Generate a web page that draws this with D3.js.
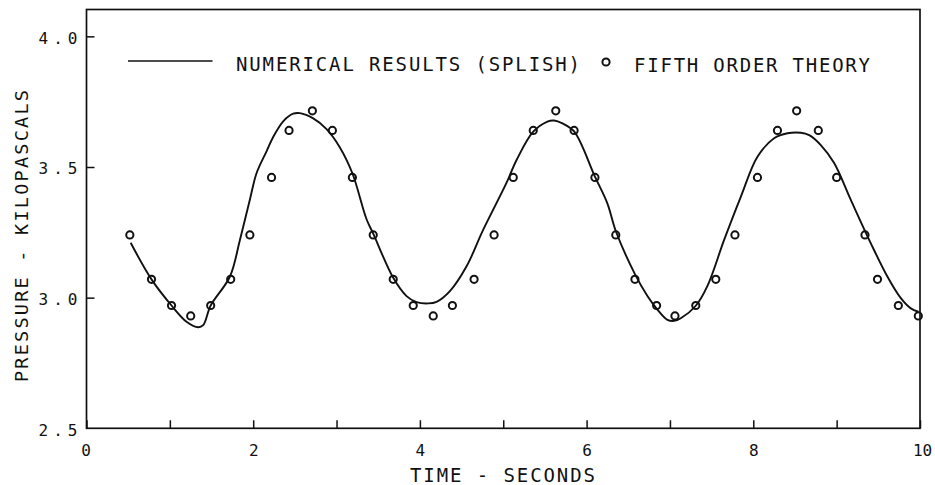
<!DOCTYPE html>
<html>
<head>
<meta charset="utf-8">
<script src="https://cdn.jsdelivr.net/npm/d3@7"></script>
<style>
  html, body { margin: 0; padding: 0; background: #fff; }
  svg { display: block; }
  text { font-family: "DejaVu Sans Mono", "Liberation Mono", monospace; fill: #111; }
</style>
</head>
<body>
<svg id="chart" width="935" height="485"></svg>
<script>
// ---- data ----
const splishTime = [0.53,0.78,1.02,1.20,1.34,1.40,1.49,1.72,1.84,1.96,2.04,2.16,2.24,2.36,2.48,2.56,2.72,2.88,3.04,3.19,3.36,3.44,3.68,3.84,3.96,4.10,4.20,4.36,4.56,4.76,5.04,5.16,5.36,5.53,5.61,5.71,5.85,6.10,6.25,6.35,6.58,6.73,6.84,6.97,7.05,7.13,7.31,7.45,7.65,7.85,8.05,8.25,8.41,8.57,8.67,8.81,8.97,9.17,9.41,9.61,9.77,9.89,9.98];
const splishPressure = [3.21,3.07,2.97,2.908,2.887,2.895,2.97,3.08,3.22,3.375,3.476,3.56,3.615,3.675,3.704,3.706,3.686,3.645,3.575,3.476,3.30,3.245,3.076,3.006,2.983,2.978,2.984,3.025,3.12,3.26,3.44,3.527,3.635,3.674,3.678,3.667,3.636,3.463,3.36,3.255,3.09,3.006,2.958,2.915,2.911,2.921,2.969,3.045,3.221,3.386,3.539,3.610,3.629,3.631,3.622,3.584,3.515,3.374,3.208,3.080,2.998,2.959,2.946];

const theoryTime = [0.52,0.78,1.02,1.25,1.49,1.73,1.96,2.22,2.43,2.71,2.95,3.19,3.44,3.68,3.92,4.16,4.39,4.65,4.89,5.12,5.36,5.63,5.85,6.10,6.35,6.58,6.84,7.06,7.31,7.55,7.78,8.05,8.29,8.52,8.78,9.00,9.34,9.49,9.74,9.98];
const theoryPressure = [3.24,3.07,2.97,2.93,2.97,3.07,3.24,3.46,3.64,3.715,3.64,3.46,3.24,3.07,2.97,2.93,2.97,3.07,3.24,3.46,3.64,3.715,3.64,3.46,3.24,3.07,2.97,2.93,2.97,3.07,3.24,3.46,3.64,3.715,3.64,3.46,3.24,3.07,2.97,2.93];

const xTicks = [0,1,2,3,4,5,6,7,8,9,10];
const xTickLabels = ["0","","2","","4","","6","","8","","10"];
const yTicks = [2.5,3.0,3.5,4.0];
const yTickLabels = ["2.5","3.0","3.5","4.0"];

const legendLine = "NUMERICAL RESULTS (SPLISH)";
const legendMarker = "FIFTH ORDER THEORY";
const xTitle = "TIME - SECONDS";
const yTitle = "PRESSURE - KILOPASCALS";

// ---- layout ----
const ink = "#111";
const plotLeft = 86.5, plotRight = 920, plotTop = 9.5, plotBottom = 428.3;
const svg = d3.select("#chart");

const x = d3.scaleLinear().domain([0, 10]).range([plotLeft, plotRight]);
const y = d3.scaleLinear().domain([2.5, 4.1]).range([plotBottom, plotBottom - 1.6 * 261.3]);

// frame
svg.append("rect")
  .attr("x", plotLeft).attr("y", plotTop)
  .attr("width", plotRight - plotLeft).attr("height", plotBottom - plotTop)
  .attr("fill", "none").attr("stroke", ink).attr("stroke-width", 1.7);

// x axis (inward ticks)
const xAxis = d3.axisBottom(x)
  .tickValues(xTicks)
  .tickSize(-8)
  .tickPadding(16)
  .tickFormat((d, i) => xTickLabels[i]);
const gx = svg.append("g").attr("transform", `translate(0,${plotBottom})`).call(xAxis);
gx.select(".domain").remove();
gx.selectAll(".tick line").attr("stroke", ink).attr("stroke-width", 1.5);
gx.selectAll(".tick text")
  .attr("font-size", 16).attr("fill", ink)
  .attr("font-family", "DejaVu Sans Mono")
  .attr("dy", "0.71em")
  .attr("dx", (d) => d === 0 ? -1 : (d === 10 ? 2 : 0));

// y axis (inward ticks)
const yAxis = d3.axisLeft(y)
  .tickValues(yTicks)
  .tickSize(-8)
  .tickPadding(9)
  .tickFormat((d, i) => yTickLabels[i]);
const gy = svg.append("g").attr("transform", `translate(${plotLeft},0)`).call(yAxis);
gy.select(".domain").remove();
gy.selectAll(".tick line").attr("stroke", ink).attr("stroke-width", 1.5)
  .attr("display", (d) => d === 2.5 ? "none" : null);
gy.selectAll(".tick text")
  .attr("font-size", 16).attr("fill", ink)
  .attr("font-family", "DejaVu Sans Mono")
  .attr("dy", "0.42em")
  .attr("textLength", 39).attr("lengthAdjust", "spacing");

// numerical curve
const pts = splishTime.map((t, i) => [t, splishPressure[i]]);
const line = d3.line().x(d => x(d[0])).y(d => y(d[1])).curve(d3.curveCatmullRom.alpha(0.5));
svg.append("path")
  .attr("d", line(pts))
  .attr("fill", "none").attr("stroke", ink).attr("stroke-width", 1.9)
  .attr("stroke-linejoin", "round");

// theory circles
svg.append("g").selectAll("circle")
  .data(theoryTime.map((t, i) => [t, theoryPressure[i]]))
  .join("circle")
  .attr("cx", d => x(d[0])).attr("cy", d => y(d[1]))
  .attr("r", 3.6)
  .attr("fill", "none").attr("stroke", ink).attr("stroke-width", 2);

// legend
svg.append("line")
  .attr("x1", 128).attr("x2", 212.5).attr("y1", 61).attr("y2", 61)
  .attr("stroke", ink).attr("stroke-width", 1.5);
svg.append("text")
  .attr("x", 236).attr("y", 71)
  .attr("font-size", 19)
  .attr("textLength", 344).attr("lengthAdjust", "spacing")
  .text(legendLine);
svg.append("circle")
  .attr("cx", 606).attr("cy", 62).attr("r", 3.6)
  .attr("fill", "none").attr("stroke", ink).attr("stroke-width", 2);
svg.append("text")
  .attr("x", 634).attr("y", 71.5)
  .attr("font-size", 19)
  .attr("textLength", 236).attr("lengthAdjust", "spacing")
  .text(legendMarker);

// axis titles
svg.append("text")
  .attr("x", 410).attr("y", 481.5)
  .attr("font-size", 19)
  .attr("textLength", 185).attr("lengthAdjust", "spacing")
  .text(xTitle);
svg.append("text")
  .attr("transform", "translate(28.3,382) rotate(-90)")
  .attr("x", 0).attr("y", 0)
  .attr("font-size", 18.5)
  .attr("textLength", 292).attr("lengthAdjust", "spacing")
  .text(yTitle);
</script>
</body>
</html>
